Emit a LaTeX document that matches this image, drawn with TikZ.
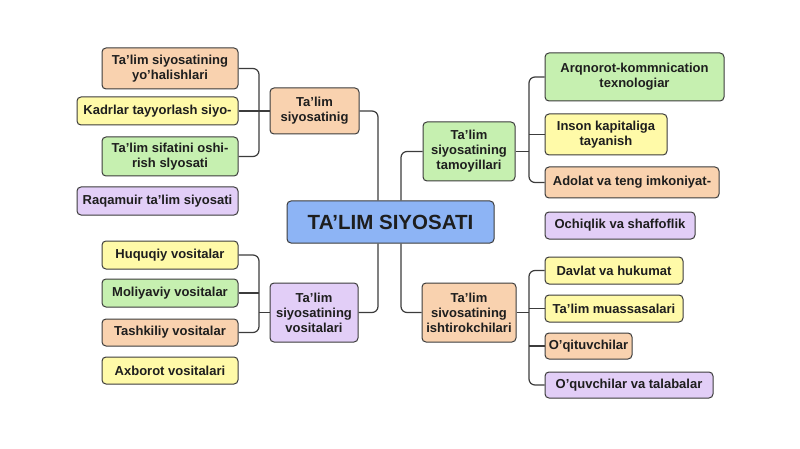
\documentclass[tikz,border=0pt]{standalone}
\usepackage{fontspec}
\setmainfont{Liberation Sans}
\usetikzlibrary{calc}
\definecolor{boxline}{HTML}{3C3C3C}
\definecolor{textc}{HTML}{1E1E1E}
\definecolor{cblue}{HTML}{8DB4F5}
\definecolor{corange}{HTML}{F9D2AF}
\definecolor{cyellow}{HTML}{FFFAA8}
\definecolor{cgreen}{HTML}{C6F0B0}
\definecolor{cpurple}{HTML}{E2CEF7}
\tikzset{
  box/.style={draw=boxline, line width=1pt, rounded corners=4pt, align=center,
    inner sep=0pt, text=textc, font=\bfseries\fontsize{13}{15}\selectfont},
  conn/.style={draw=boxline, line width=1.2pt, rounded corners=6pt}
}
\begin{document}
\begin{tikzpicture}[x=1pt,y=-1pt]
\fill[white] (0,0) rectangle (800,449);
\useasboundingbox (0,0) rectangle (800,449);

% central
\node[box, fill=cblue, minimum width=207pt, minimum height=42pt,
  font=\bfseries\fontsize{20.5}{24}\selectfont] (c) at (390.5,222) {TA'LIM SIYOSATI};

% top-left
\node[box, fill=corange, minimum width=89pt, minimum height=46pt] (p1) at (314.5,111) {Ta'lim\\siyosatinig};
\node[box, fill=corange, minimum width=136pt, minimum height=41pt] (a1) at (170,68.5) {Ta'lim siyosatining\\yo'halishlari};
\node[box, fill=cyellow, minimum width=161pt, minimum height=28pt] (a2) at (157.5,111) {Kadrlar tayyorlash siyo-};
\node[box, fill=cgreen, minimum width=136pt, minimum height=39pt] (a3) at (170,156.5) {Ta'lim sifatini oshi-\\rish slyosati};
\node[box, fill=cpurple, minimum width=161pt, minimum height=28pt] (a4) at (157.5,201) {Raqamuir ta'lim siyosati};

% top-right
\node[box, fill=cgreen, minimum width=92pt, minimum height=59pt] (p2) at (469,151.5) {Ta'lim\\siyosatining\\tamoyillari};
\node[box, fill=cgreen, minimum width=179pt, minimum height=48pt] (b1) at (634.5,77) {Arqnorot-kommnication\\texnologiar};
\node[box, fill=cyellow, minimum width=122pt, minimum height=41pt] (b2) at (606,134.5) {Inson kapitaliga\\tayanish};
\node[box, fill=corange, minimum width=174pt, minimum height=31pt] (b3) at (632,182.5) {Adolat va teng imkoniyat-};
\node[box, fill=cpurple, minimum width=150pt, minimum height=27pt] (b4) at (620,225.5) {Ochiqlik va shaffoflik};

% bottom-left
\node[box, fill=cpurple, minimum width=88pt, minimum height=59pt] (p3) at (314,312.5) {Ta'lim\\siyosatining\\vositalari};
\node[box, fill=cyellow, minimum width=136pt, minimum height=28pt] (d1) at (170,255) {Huquqiy vositalar};
\node[box, fill=cgreen, minimum width=136pt, minimum height=28pt] (d2) at (170,293) {Moliyaviy vositalar};
\node[box, fill=corange, minimum width=136pt, minimum height=27pt] (d3) at (170,332.5) {Tashkiliy vositalar};
\node[box, fill=cyellow, minimum width=136pt, minimum height=27pt] (d4) at (170,370.5) {Axborot vositalari};

% bottom-right
\node[box, fill=corange, minimum width=94pt, minimum height=59pt] (p4) at (469,312.5) {Ta'lim\\sivosatining\\ishtirokchilari};
\node[box, fill=cyellow, minimum width=138pt, minimum height=27pt] (e1) at (614,270.5) {Davlat va hukumat};
\node[box, fill=cyellow, minimum width=138pt, minimum height=27pt] (e2) at (614,308.5) {Ta'lim muassasalari};
\node[box, fill=corange, minimum width=87pt, minimum height=26pt] (e3) at (588.5,346) {O'qituvchilar};
\node[box, fill=cpurple, minimum width=168pt, minimum height=26pt] (e4) at (629,385) {O'quvchilar va talabalar};

% junction coordinates
\coordinate (ct1) at ($(c.north)+(-12.5,0)$);
\coordinate (ct2) at ($(c.north)+(10.5,0)$);
\coordinate (cb1) at ($(c.south)+(-12.5,0)$);
\coordinate (cb2) at ($(c.south)+(10.5,0)$);
\coordinate (jl1) at (259,111);
\coordinate (jr1) at (529,134.5);
\coordinate (jl2) at (259,293);
\coordinate (jr2) at (529,308.5);

% connectors
\draw[conn] (a1.east) -| (jl1) |- (a3.east);
\draw[conn] (a2.east) -- (p1.west);
\draw[conn] (p1.east) -| (ct1);

\draw[conn] (ct2) |- (p2.west);
\draw[conn] (b1.west) -| (jr1) |- (b3.west);
\draw[conn] (b2.west) -- (b2.west -| jr1);
\draw[conn] (p2.east) -- (p2.east -| jr1);

\draw[conn] (d1.east) -| (jl2) |- (d3.east);
\draw[conn] (d2.east) -- (jl2);
\draw[conn] (p3.west) -- (p3.west -| jl2);
\draw[conn] (p3.east) -| (cb1);

\draw[conn] (cb2) |- (p4.west);
\draw[conn] (e1.west) -| (jr2) |- (e4.west);
\draw[conn] (e2.west) -- (jr2);
\draw[conn] (e3.west) -- (e3.west -| jr2);
\draw[conn] (p4.east) -- (p4.east -| jr2);
\end{tikzpicture}
\end{document}
